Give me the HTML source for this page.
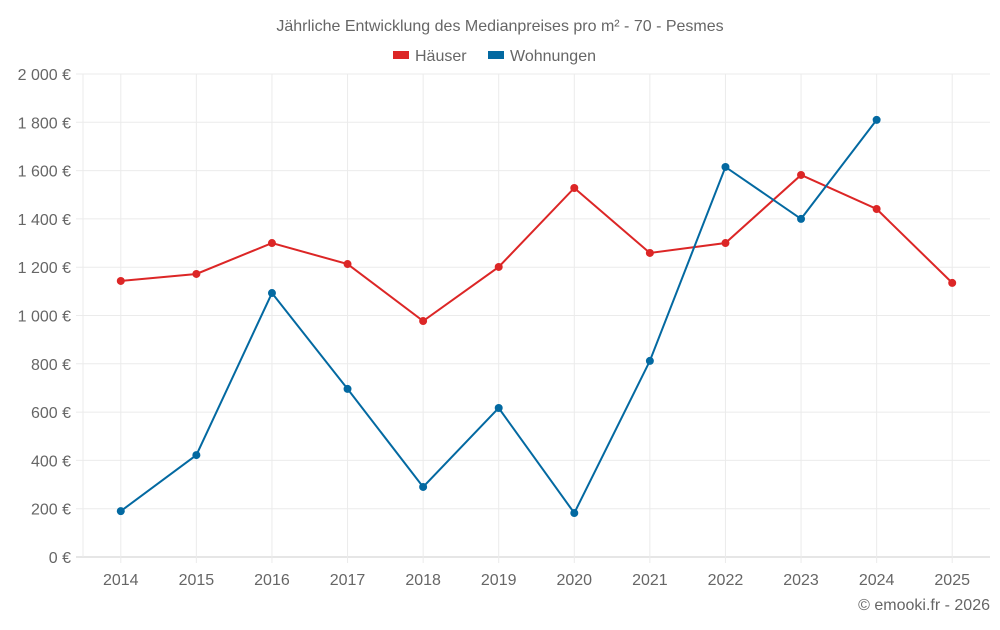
<!DOCTYPE html>
<html><head><meta charset="utf-8"><style>
body{margin:0;background:#fff;font-family:"Liberation Sans",sans-serif;}
svg text{font-family:"Liberation Sans",sans-serif;fill:#666;}
</style></head><body>
<svg id="chart" width="1000" height="625">
<text x="500" y="31" text-anchor="middle" font-size="16">Jährliche Entwicklung des Medianpreises pro m² - 70 - Pesmes</text>
<g>
<g><rect x="393" y="51" width="16" height="8" fill="#dc2626"/><text x="415" y="61" font-size="16">Häuser</text></g>
<g><rect x="488" y="51" width="16" height="8" fill="#0369a1"/><text x="510" y="61" font-size="16">Wohnungen</text></g>
</g>
<g id="grid"></g><g id="axes"></g><g id="series"></g>
<text x="990" y="610" text-anchor="end" font-size="16">© emooki.fr - 2026</text>
</svg>
<script>
const years=["2014","2015","2016","2017","2018","2019","2020","2021","2022","2023","2024","2025"];
const haeuser=[1143,1172,1300,1213,977,1201,1528,1259,1300,1582,1441,1135];
const wohnungen=[190,422,1093,696,290,617,182,812,1615,1400,1810,null];
const yTicks=[0,200,400,600,800,1000,1200,1400,1600,1800,2000];
const tickLabels=["0 €","200 €","400 €","600 €","800 €","1 000 €","1 200 €","1 400 €","1 600 €","1 800 €","2 000 €"];
const L=83,R=990,T=74,B=557,NS="http://www.w3.org/2000/svg";
const bw=(R-L)/years.length;
const x=i=>L+bw*(i+0.5);
const y=v=>B-(v/2000)*(B-T);
function mk(tag,attrs,parent){const e=document.createElementNS(NS,tag);for(const k in attrs)e.setAttribute(k,attrs[k]);parent.appendChild(e);return e;}
const g=document.getElementById('grid'),a=document.getElementById('axes'),s=document.getElementById('series');
yTicks.forEach((v,i)=>{
 const l=mk('line',{x1:76,x2:R,y1:y(v),y2:y(v),stroke:i==0?'#ccc':'#ebebeb'},g);
 
 
 const t=mk('text',{x:71,y:y(v)+6,'text-anchor':'end','font-size':16},a);t.textContent=tickLabels[i];
 
 
});
years.forEach((yr,i)=>{
 const l=mk('line',{x1:x(i),x2:x(i),y1:T,y2:B+6,stroke:'#ebebeb'},g);
 
 
 const t=mk('text',{x:x(i),y:585,'text-anchor':'middle','font-size':16},a);t.textContent=yr;
 
 
});
const al=mk('line',{x1:L,x2:L,y1:T,y2:B,stroke:'#ebebeb'},g);


function draw(data,color,name){
 let d='';data.forEach((v,i)=>{if(v==null)return;d+=(d?'L':'M')+x(i)+','+y(v);});
 const p=mk('path',{d:d,fill:'none',stroke:color,'stroke-width':2},s);
 
 
 data.forEach((v,i)=>{if(v==null)return;
  const c=mk('circle',{cx:x(i),cy:y(v),r:4,fill:color},s);
  
  
 });
}
draw(haeuser,'#dc2626','haeuser');
draw(wohnungen,'#0369a1','wohnungen');
</script>
</body></html>
